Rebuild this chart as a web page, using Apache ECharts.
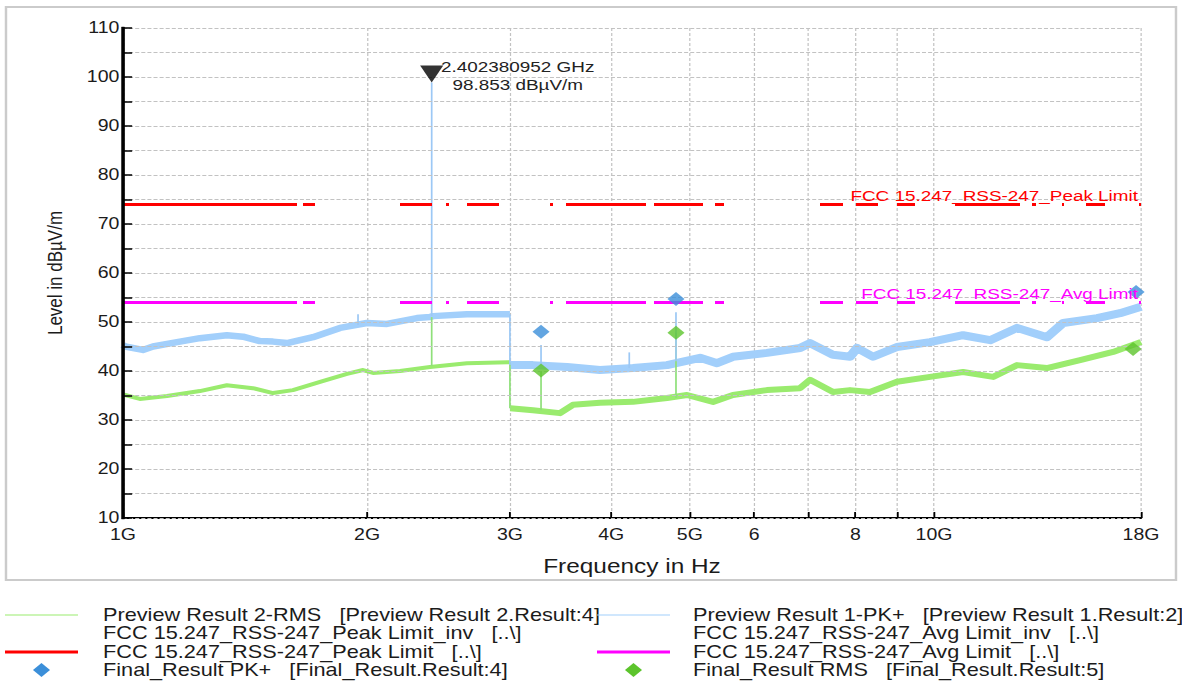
<!DOCTYPE html>
<html><head><meta charset="utf-8">
<script src="https://cdn.jsdelivr.net/npm/echarts@6/dist/echarts.min.js"></script>
<style>
html,body{margin:0;padding:0;background:#fff;overflow:hidden;width:1182px;height:686px}
#chart{width:969px;height:686px;transform:scaleX(1.21981);transform-origin:0 0;}
</style></head><body><div id="chart"></div>
<script>
// ---------------- DATA ----------------
// Preview Result 1-PK+ (frequency in GHz, level in dBµV/m)
const pkFreq  = [1.000,1.006,1.058,1.089,1.166,1.244,1.343,1.406,1.475,1.531,1.593,1.715,1.852,1.999,2.116,2.304,2.391,2.411,2.655,2.850,2.975,3.000,
                 3.003,3.203,3.528,3.874,4.255,4.686,5.147,5.401,5.651,6.224,6.836,7.033,7.508,7.879,8.037,8.411,9.004,9.888,10.86,11.73,12.66,13.78,14.43,15.89,16.96,18.00];
const pkLevel = [45.3,45.0,44.3,45.0,45.9,46.7,47.3,47.0,46.1,46.0,45.7,46.9,48.8,49.8,49.6,50.8,51.0,51.2,51.6,51.6,51.6,51.6,
                 41.2,41.2,40.8,40.2,40.6,41.2,42.7,41.6,42.9,43.7,44.7,45.7,43.3,42.9,44.7,42.9,44.9,45.9,47.3,46.3,48.8,46.9,49.8,50.8,51.8,53.1];
// Preview Result 2-RMS
const rmsFreq  = [1.000,1.006,1.049,1.133,1.244,1.343,1.446,1.531,1.620,1.750,1.889,1.977,2.034,2.196,2.391,2.655,2.985,3.000,
                  3.003,3.203,3.458,3.588,3.874,4.255,4.686,4.960,5.340,5.651,6.224,6.836,7.033,7.508,7.879,8.339,9.004,9.888,10.86,11.83,12.66,13.78,15.14,16.63,18.00];
const rmsLevel = [35.2,35.1,34.3,34.9,35.9,37.1,36.5,35.5,36.1,37.8,39.4,40.2,39.6,40.0,40.8,41.6,41.8,41.8,
                  32.4,32.0,31.4,33.1,33.5,33.7,34.5,35.1,33.7,35.1,36.1,36.5,38.2,35.7,36.1,35.7,37.8,38.8,39.8,38.8,41.2,40.6,42.2,43.9,45.9];
// narrow spikes / steps in the preview traces
const pkSpikeFreq  = [2.402380952, 3.000, 3.277, 4.807, 1.949, 4.21];
const pkSpikeLow   = [51.2, 41.2, 41.0, 42.0, 49.4, 40.6];
const pkSpikeHigh  = [98.853, 51.6, 45.3, 52.0, 51.6, 43.8];
const rmsSpikeFreq = [2.402380952, 3.000, 3.277, 4.807];
const rmsSpikeLow  = [41.0, 32.4, 32.0, 34.5];
const rmsSpikeHigh = [51.0, 41.8, 40.0, 47.8];
// Final results
const finalPkFreq   = [3.277, 4.807, 17.75];
const finalPkLevel  = [48.0, 54.7, 56.1];
const finalRmsFreq  = [3.277, 4.807, 17.6];
const finalRmsLevel = [40.1, 47.8, 44.5];
// Limits
const limitFreq  = [1, 18];
const peakLimit  = [74, 74];
const avgLimit   = [54, 54];
const peakLimitLabel = 'FCC 15.247_RSS-247_Peak Limit';
const avgLimitLabel  = 'FCC 15.247_RSS-247_Avg Limit';
// Marker
const markerFreq  = 2.402380952;
const markerLevel = 98.853;
const markerText  = ['2.402380952 GHz', '98.853 dBµV/m'];
// Axis ticks / labels
const xTickFreq  = [1,2,3,4,5,6,7,8,9,10,18];
const xLabelFreq = [1,2,3,4,5,6,8,10,18];
const xLabelText = ['1G','2G','3G','4G','5G','6','8','10G','18G'];
const yMin = 10, yMax = 110;
const xAxisTitle = 'Frequency in Hz';
const yAxisTitle = 'Level in dBµV/m';
// Legend
const legendLeftNames  = ['Preview Result 2-RMS   [Preview Result 2.Result:4]',
                          'FCC 15.247_RSS-247_Peak Limit_inv   [..\\]',
                          'FCC 15.247_RSS-247_Peak Limit   [..\\]',
                          'Final_Result PK+   [Final_Result.Result:4]'];
const legendRightNames = ['Preview Result 1-PK+   [Preview Result 1.Result:2]',
                          'FCC 15.247_RSS-247_Avg Limit_inv   [..\\]',
                          'FCC 15.247_RSS-247_Avg Limit   [..\\]',
                          'Final_Result RMS   [Final_Result.Result:5]'];

// ---------------- STYLE ----------------
const S = 1182/969;               // horizontal stretch of the original picture
const FONT = '"Liberation Sans", Arial, sans-serif';
const C_PK = '#a2cffb', C_RMS = '#9aeb6e', C_RED = '#ff0000', C_MAG = '#ff00ff';
const C_PKD = '#3b8fd9', C_RMSD = '#5cc42c';
const limitDashRef = [174,6,12,85,32,14,3,18,32,51,3,13,80,8,49,12,9,96,23,13,22,19,18,40,65,12,4,26,2,22,19,34,2];
const limitDash = limitDashRef.map(v => v / S);

const chart = echarts.init(document.getElementById('chart'), null, {renderer: 'svg'});
const lg = f => Math.log10(f);

function traceSeries(freq, level, color, widths, z) {
  const a = [], b = [];
  freq.forEach((f, i) => (f <= 3 ? a : b).push([f, level[i]]));
  return [a, b].map((d, k) => ({
    type: 'line', xAxisIndex: 0, yAxisIndex: 0, data: d, symbol: 'none', showSymbol: false,
    lineStyle: {color, width: widths[k], join: 'round'}, z, silent: true
  }));
}
function spikeSeries(freq, lo, hi, color, z) {
  return freq.map((f, i) => ({
    type: 'line', xAxisIndex: 0, yAxisIndex: 0, data: [[f, lo[i]], [f, hi[i]]],
    symbol: 'none', lineStyle: {color, width: 1.4}, z, silent: true
  }));
}

const series = [].concat(
  traceSeries(rmsFreq, rmsLevel, C_RMS, [4, 6], 2),
  traceSeries(pkFreq, pkLevel, C_PK, [6.5, 8], 2),
  spikeSeries(rmsSpikeFreq, rmsSpikeLow, rmsSpikeHigh, '#8fe07a', 3),
  spikeSeries(pkSpikeFreq, pkSpikeLow, pkSpikeHigh, '#9cc8f5', 4),
  [
    {type: 'line', data: limitFreq.map((f, i) => [f, peakLimit[i]]), symbol: 'none',
     lineStyle: {color: C_RED, width: 3, type: limitDash, cap: 'butt'}, z: 5, silent: true},
    {type: 'line', data: limitFreq.map((f, i) => [f, avgLimit[i]]), symbol: 'none',
     lineStyle: {color: C_MAG, width: 3, type: limitDash, cap: 'butt'}, z: 5, silent: true},
    {type: 'scatter', data: finalPkFreq.map((f, i) => [f, finalPkLevel[i]]), symbol: 'diamond',
     symbolSize: 14, itemStyle: {color: C_PKD}, z: 7, silent: true},
    {type: 'scatter', data: finalRmsFreq.map((f, i) => [f, finalRmsLevel[i]]), symbol: 'diamond',
     symbolSize: 14, itemStyle: {color: C_RMSD}, z: 7, silent: true},
    {type: 'scatter', data: [[markerFreq, markerLevel]], symbol: 'triangle', symbolRotate: 180,
     symbolSize: [19, 17], symbolOffset: [0, -8.5], itemStyle: {color: '#000'}, z: 8, silent: true}
  ]
);

const option = {
  animation: false,
  backgroundColor: '#fff',
  grid: {left: 123 / S, right: 969 - 1141 / S, top: 28, bottom: 686 - 518, containLabel: false},
  xAxis: [
    {type: 'log', logBase: 10, min: 1, max: 18, show: false, gridIndex: 0},
    {type: 'value', min: 0, max: lg(18), gridIndex: 0, position: 'bottom', z: 1,
     name: xAxisTitle, nameLocation: 'middle', nameGap: 38,
     nameTextStyle: {fontSize: 20, color: '#1b1b1b', fontFamily: FONT},
     axisLine: {show: true, onZero: false, lineStyle: {color: '#000', width: 2}},
     axisTick: {show: true, inside: true, length: 6, customValues: xTickFreq.map(lg),
                lineStyle: {color: '#000', width: 1.5}},
     axisLabel: {show: true, margin: 9, fontSize: 16, color: '#1b1b1b', fontFamily: FONT,
                 customValues: xLabelFreq.map(lg),
                 formatter: v => {
                   const i = xLabelFreq.findIndex(f => Math.abs(lg(f) - v) < 1e-6);
                   return i >= 0 ? xLabelText[i] : '';
                 }},
     splitLine: {show: true, lineStyle: {color: '#c2c2c2', width: 1, type: [3, 2]}}
    }
  ],
  yAxis: {
    type: 'value', min: yMin, max: yMax, interval: 5, z: 6,
    name: yAxisTitle, nameLocation: 'middle', nameGap: 47, nameRotate: 90,
    nameTextStyle: {fontSize: 17, color: '#1b1b1b', fontFamily: FONT},
    axisLine: {show: true, onZero: false, lineStyle: {color: '#000', width: 2}},
    axisTick: {show: true, inside: true, length: 7.5, lineStyle: {color: '#000', width: 1.5}},
    axisLabel: {margin: 3, fontSize: 16, color: '#1b1b1b', fontFamily: FONT,
                formatter: v => (v % 10 === 0 ? String(v) : '')},
    splitLine: {show: true, lineStyle: {color: '#c2c2c2', width: 1, type: [3.3, 1.7]}}
  },
  series: series
};
chart.setOption(option);

// ---------------- GRAPHIC (frame, axis line, annotations, legend) ----------------
const px = (f, v) => chart.convertToPixel({xAxisIndex: 0, yAxisIndex: 0}, [f, v]);
const txt = (x, y, text, size, fill, align) => ({
  type: 'text', x, y, silent: true, z: 20,
  style: {text, fill, fontSize: size, fontFamily: FONT, align: align || 'left', verticalAlign: 'middle',
          textAlign: align || 'left', textVerticalAlign: 'middle'}
});
const g = [];
g.push({type: 'rect', shape: {x: 6 / S, y: 7, width: 1170 / S, height: 573}, silent: true, z: 0,
        style: {fill: 'none', stroke: '#cbcbcb', lineWidth: 2}});

// solid black value-axis line
const yb = px(xTickFreq[0], yMin), yt = px(xTickFreq[0], yMax);
g.push({type: 'rect', silent: true, z: 100, zlevel: 0,
        shape: {x: yb[0] - 1.25, y: yt[1] - 1, width: 2.5, height: yb[1] - yt[1] + 2},
        style: {fill: '#000000', stroke: '#000000', lineWidth: 0.4}});

const mp = px(markerFreq, markerLevel);
g.push(txt(mp[0] + 86 / S, mp[1] - 15.6, markerText[0], 15.5, '#222', 'center'));
g.push(txt(mp[0] + 86 / S, mp[1] + 2.4, markerText[1], 15.5, '#222', 'center'));

const pl = px(limitFreq[1], peakLimit[1]);
g.push(txt(pl[0] - 3 / S, pl[1] - 9, peakLimitLabel, 15.5, C_RED, 'right'));
const al = px(limitFreq[1], avgLimit[1]);
g.push(txt(al[0] - 3 / S, al[1] - 9, avgLimitLabel, 15.5, C_MAG, 'right'));

const rowsY = [615, 633, 652, 670];
const legendSym = [
  [{t: 'line', c: C_RMS, w: 1.2}, null, {t: 'line', c: C_RED, w: 3}, {t: 'diamond', c: C_PKD}],
  [{t: 'line', c: C_PK, w: 1.2}, null, {t: 'line', c: C_MAG, w: 3}, {t: 'diamond', c: C_RMSD}]
];
const colSym = [[5 / S, 78 / S], [597 / S, 670 / S]];
const colText = [103 / S, 693 / S];
[legendLeftNames, legendRightNames].forEach((names, c) => {
  names.forEach((name, r) => {
    const y = rowsY[r];
    const s = legendSym[c][r];
    if (s && s.t === 'line') {
      g.push({type: 'line', silent: true, z: 20, shape: {x1: colSym[c][0], y1: y, x2: colSym[c][1], y2: y},
              style: {stroke: s.c, lineWidth: s.w}});
    } else if (s && s.t === 'diamond') {
      const cx = (colSym[c][0] + colSym[c][1]) / 2, h = 7;
      g.push({type: 'polygon', silent: true, z: 20,
              shape: {points: [[cx, y - h], [cx + h, y], [cx, y + h], [cx - h, y]]}, style: {fill: s.c}});
    }
    g.push(txt(colText[c], y, name, 17.8, '#1b1b1b', 'left'));
  });
});
chart.setOption({graphic: g});
</script>
</body></html>
